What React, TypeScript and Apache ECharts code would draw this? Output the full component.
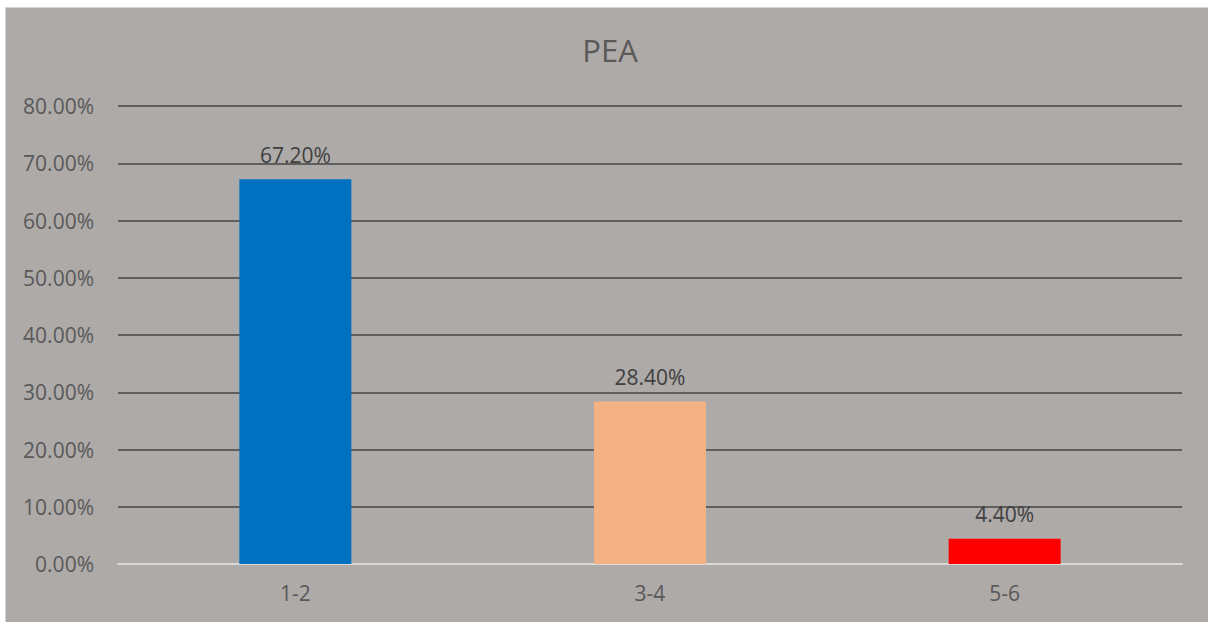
import React, { useEffect, useRef } from "react";
import * as echarts from "echarts";

const categories = ["1-2", "3-4", "5-6"];
const values = [67.2, 28.4, 4.4];
const barColors = ["#0070C0", "#F4B183", "#FF0000"];
const titleText = "PEA";

export default function App() {
  const ref = useRef<HTMLDivElement>(null);
  useEffect(() => {
    if (!ref.current) return;
    const chart = echarts.init(ref.current, null, { renderer: "svg" });
    chart.setOption({
      animation: false,
      backgroundColor: "#AEAAA8",
      textStyle: { fontFamily: "Open Sans" },
      title: {
        text: titleText,
        left: "center",
        top: 21,
        textStyle: { fontSize: 31, fontWeight: "normal", color: "#595959", fontFamily: "Open Sans" },
      },
      grid: { left: 112, right: 32, top: 98, bottom: 62 },
      xAxis: {
        type: "category",
        data: categories,
        axisLine: { show: true, lineStyle: { color: "#D9D9D9", width: 2 } },
        axisTick: { show: false },
        axisLabel: { color: "#595959", fontSize: 21, margin: 18, fontFamily: "Open Sans" },
      },
      yAxis: {
        type: "value",
        min: 0,
        max: 80,
        interval: 10,
        axisLine: { show: false },
        axisTick: { show: false },
        axisLabel: {
          color: "#595959",
          fontSize: 21,
          margin: 24,
          fontFamily: "Open Sans",
          formatter: (v: number) => v.toFixed(2) + "%",
        },
        splitLine: { lineStyle: { color: "#5E5E5E", width: 2 } },
      },
      series: [
        {
          type: "bar",
          barWidth: 112,
          data: values.map((v, i) => ({ value: v, itemStyle: { color: barColors[i] } })),
          label: {
            show: true,
            position: "top",
            distance: 14,
            color: "#404040",
            fontSize: 21,
            fontFamily: "Open Sans",
            formatter: (p: any) => Number(p.value).toFixed(2) + "%",
          },
        },
      ],
    });
    return () => chart.dispose();
  }, []);
  return (
    <div
      style={{
        position: "fixed",
        left: 5,
        top: 7,
        width: 1210,
        height: 620,
        border: "1px solid #D4D4D4",
        boxSizing: "border-box",
        background: "#AEAAA8",
      }}
    >
      <div ref={ref} style={{ width: 1208, height: 618 }} />
    </div>
  );
}
